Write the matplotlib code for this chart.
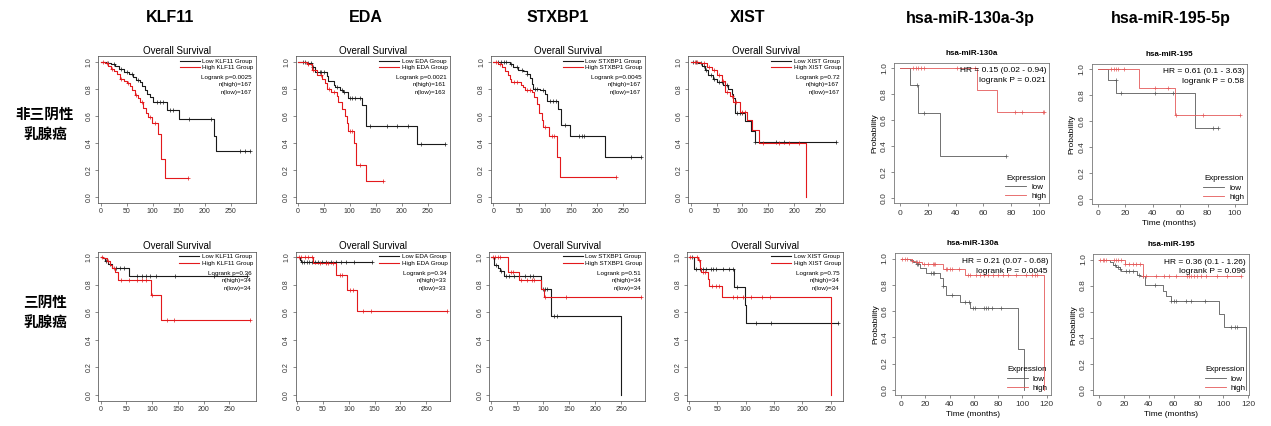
import numpy as np
import matplotlib
matplotlib.use('Agg')
import matplotlib.pyplot as plt
from matplotlib.lines import Line2D

plt.rcParams['font.family'] = ['Liberation Sans', 'Noto Sans CJK SC', 'DejaVu Sans']

W, H = 1271, 426

col_titles = ['KLF11', 'EDA', 'STXBP1', 'XIST', 'hsa-miR-130a-3p', 'hsa-miR-195-5p']
row_titles = ['非三阴性\n乳腺癌', '三阴性\n乳腺癌']

# ---------- GEPIA panels (time in months) ----------
klf11_1_low_t = [0, 10, 20, 28, 35, 45, 55, 62, 68, 75, 80, 85, 90, 95, 101, 127, 150, 218, 222]
klf11_1_low_s = [1.0, 0.99, 0.98, 0.965, 0.945, 0.925, 0.91, 0.89, 0.865, 0.85, 0.82, 0.79, 0.76, 0.74, 0.705, 0.645, 0.575, 0.455, 0.345]
klf11_1_low_c = [15, 25, 40, 50, 60, 72, 108, 114, 120, 133, 140, 169, 212, 268, 278, 287]
klf11_1_high_t = [0, 8, 15, 20, 25, 31, 37, 44, 50, 56, 60, 66, 72, 76, 82, 88, 92, 98, 111, 116, 124]
klf11_1_high_s = [1.0, 0.99, 0.97, 0.95, 0.93, 0.91, 0.87, 0.855, 0.84, 0.82, 0.79, 0.755, 0.73, 0.705, 0.655, 0.62, 0.595, 0.545, 0.47, 0.28, 0.14]
klf11_1_high_c = [5, 12, 22, 40, 52, 68, 80, 95, 104, 167]
klf11_1_stats = ['Logrank p=0.0025', 'n(high)=167', 'n(low)=167']

eda_1_low_t = [0, 17, 27, 33, 56, 59, 69, 72, 81, 88, 97, 124, 131, 230]
eda_1_low_s = [1.0, 0.99, 0.96, 0.925, 0.895, 0.857, 0.83, 0.81, 0.795, 0.775, 0.733, 0.684, 0.523, 0.39]
eda_1_low_c = [10, 15, 20, 25, 30, 38, 42, 45, 50, 75, 85, 90, 100, 105, 110, 120, 140, 172, 192, 212, 237, 283]
eda_1_high_t = [0, 17, 27, 37, 46, 53, 56, 65, 75, 78, 85, 91, 94, 97, 108, 113, 131]
eda_1_high_s = [1.0, 0.98, 0.94, 0.90, 0.87, 0.84, 0.80, 0.78, 0.75, 0.70, 0.65, 0.60, 0.55, 0.49, 0.40, 0.24, 0.12]
eda_1_high_c = [20, 30, 45, 60, 70, 100, 104, 120, 165]
eda_1_stats = ['Logrank p=0.0021', 'n(high)=161', 'n(low)=163']

stxbp1_1_low_t = [0, 32, 38, 48, 58, 64, 70, 74, 77, 90, 99, 103, 125, 131, 147, 215]
stxbp1_1_low_s = [1.0, 0.98, 0.96, 0.94, 0.93, 0.91, 0.88, 0.835, 0.80, 0.79, 0.76, 0.71, 0.65, 0.53, 0.455, 0.30]
stxbp1_1_low_c = [10, 15, 20, 25, 35, 45, 55, 65, 80, 85, 95, 110, 115, 120, 138, 165, 170, 175, 265, 285]
stxbp1_1_high_t = [0, 10, 16, 22, 29, 32, 35, 54, 58, 61, 74, 78, 85, 88, 93, 96, 108, 122, 128]
stxbp1_1_high_s = [1.0, 0.98, 0.96, 0.93, 0.90, 0.87, 0.85, 0.83, 0.81, 0.79, 0.78, 0.74, 0.69, 0.62, 0.57, 0.52, 0.45, 0.295, 0.15]
stxbp1_1_high_c = [5, 12, 40, 45, 65, 70, 100, 113, 117, 237]
stxbp1_1_stats = ['Logrank p=0.0045', 'n(high)=167', 'n(low)=167']

xist_1_low_t = [0, 15, 21, 28, 34, 44, 50, 63, 73, 79, 82, 86, 105, 116, 124]
xist_1_low_s = [1.0, 0.99, 0.97, 0.94, 0.90, 0.87, 0.85, 0.83, 0.80, 0.76, 0.73, 0.62, 0.565, 0.49, 0.41]
xist_1_low_c = [5, 10, 20, 25, 30, 40, 45, 55, 60, 70, 90, 95, 100, 125, 165, 180, 280]
xist_1_high_t = [0, 18, 31, 41, 50, 60, 66, 76, 82, 95, 108, 118, 133, 222]
xist_1_high_s = [1.0, 0.99, 0.96, 0.94, 0.90, 0.86, 0.78, 0.75, 0.70, 0.63, 0.57, 0.50, 0.40, 0.0]
xist_1_high_c = [8, 12, 25, 35, 45, 55, 62, 70, 80, 85, 88, 100, 105, 140, 170, 190, 210]
xist_1_stats = ['Logrank p=0.72', 'n(high)=167', 'n(low)=167']

klf11_2_low_t = [0, 5, 8, 15, 21, 54]
klf11_2_low_s = [1.0, 0.99, 0.97, 0.95, 0.92, 0.86]
klf11_2_low_c = [10, 18, 30, 38, 45, 70, 80, 88, 95, 108, 145, 220, 285]
klf11_2_high_t = [0, 5, 12, 18, 21, 28, 34, 97, 118]
klf11_2_high_s = [1.0, 0.99, 0.97, 0.945, 0.92, 0.89, 0.83, 0.725, 0.545]
klf11_2_high_c = [3, 14, 25, 40, 55, 70, 80, 88, 100, 128, 143, 290]
klf11_2_stats = ['Logrank p=0.36', 'n(high)=34', 'n(low)=34']

eda_2_low_t = [0, 5, 8]
eda_2_low_s = [1.0, 0.98, 0.965]
eda_2_low_c = [10, 14, 18, 22, 28, 35, 40, 48, 55, 65, 75, 85, 95, 110, 144]
eda_2_high_t = [0, 31, 76, 96, 115]
eda_2_high_s = [1.0, 0.955, 0.87, 0.76, 0.61]
eda_2_high_c = [3, 8, 15, 20, 28, 45, 55, 60, 70, 82, 87, 103, 108, 128, 143, 290]
eda_2_stats = ['Logrank p=0.34', 'n(high)=33', 'n(low)=33']

stxbp1_2_low_t = [0, 6, 14, 17, 24, 97, 115, 250]
stxbp1_2_low_s = [1.0, 0.94, 0.92, 0.90, 0.865, 0.77, 0.575, 0.0]
stxbp1_2_low_c = [10, 20, 28, 35, 45, 65, 75, 80, 100, 104, 108, 122, 127]
stxbp1_2_high_t = [0, 33, 53, 97, 101]
stxbp1_2_high_s = [1.0, 0.89, 0.83, 0.77, 0.71]
stxbp1_2_high_c = [3, 8, 13, 18, 38, 43, 58, 70, 78, 83, 103, 145, 288]
stxbp1_2_stats = ['Logrank p=0.51', 'n(high)=34', 'n(low)=34']

xist_2_low_t = [0, 8, 80, 98, 100]
xist_2_low_s = [1.0, 0.91, 0.78, 0.65, 0.52]
xist_2_low_c = [5, 12, 20, 25, 30, 38, 42, 48, 60, 70, 77, 85, 118, 145, 263]
xist_2_high_t = [0, 16, 19, 22, 33, 35, 58, 250]
xist_2_high_s = [1.0, 0.98, 0.92, 0.89, 0.84, 0.79, 0.71, 0.0]
xist_2_high_c = [2, 14, 17, 25, 28, 40, 48, 52, 78, 85, 95, 110, 128, 143]
xist_2_stats = ['Logrank p=0.75', 'n(high)=34', 'n(low)=34']

# ---------- KM plotter panels ----------
mir130_1_low_t = [0, 6.7, 12.5, 28.7]
mir130_1_low_s = [1.0, 0.875, 0.656, 0.328]
mir130_1_low_c = [12, 17, 76]
mir130_1_high_t = [0, 55, 69.6]
mir130_1_high_s = [1.0, 0.833, 0.667]
mir130_1_high_c = [9, 11, 12.5, 15, 17, 41, 54, 83, 88, 103, 104]
mir130_1_stats = ['HR = 0.15 (0.02 - 0.94)', 'logrank P = 0.021']

mir195_1_low_t = [0, 7.8, 13.5, 71]
mir195_1_low_s = [1.0, 0.917, 0.815, 0.543]
mir195_1_low_c = [13, 17, 42, 55, 84, 88]
mir195_1_high_t = [0, 30, 56.3]
mir195_1_high_s = [1.0, 0.857, 0.643]
mir195_1_high_c = [10, 12, 13, 15, 19, 42, 51, 57, 77, 104]
mir195_1_stats = ['HR = 0.61 (0.1 - 3.63)', 'logrank P = 0.58']

mir130_2_low_t = [0, 7.4, 10, 13, 15.7, 21, 32, 35, 37, 48.6, 57, 96.7, 101]
mir130_2_low_s = [1.0, 0.99, 0.975, 0.955, 0.93, 0.89, 0.855, 0.79, 0.72, 0.67, 0.62, 0.31, 0.0]
mir130_2_low_c = [12, 13, 14, 25, 26, 27, 35, 42, 53, 56, 59, 61, 68, 70, 72, 75, 82]
mir130_2_high_t = [0, 9, 11.5, 17, 35, 53, 118]
mir130_2_high_s = [1.0, 0.985, 0.975, 0.96, 0.92, 0.875, 0.0]
mir130_2_high_c = [1, 3, 5, 9, 13, 15, 19, 22, 26, 27, 28, 37, 38, 40, 42, 48, 55, 57, 62, 65, 68,
                   72, 76, 80, 84, 88, 95, 103, 108, 110, 112]
mir130_2_stats = ['HR = 0.21 (0.07 - 0.68)', 'logrank P = 0.0045']

mir195_2_low_t = [0, 9, 11.4, 14, 17, 18, 30.6, 33, 36.7, 51, 54, 58, 96.5, 100.5, 117.8]
mir195_2_low_s = [1.0, 0.98, 0.96, 0.94, 0.93, 0.91, 0.88, 0.87, 0.805, 0.76, 0.72, 0.68, 0.58, 0.485, 0.0]
mir195_2_low_c = [13, 15, 17, 22, 24, 27, 32, 35, 45, 58, 60, 62, 70, 74, 85, 106, 109, 111]
mir195_2_high_t = [0, 20.7, 35]
mir195_2_high_s = [1.0, 0.965, 0.87]
mir195_2_high_c = [1, 3, 4, 6, 12, 14, 15, 18, 21, 24, 27, 30, 33, 35, 38, 46, 52, 56, 62, 71, 72,
                   74, 76, 79, 82, 86, 95, 103, 114]
mir195_2_stats = ['HR = 0.36 (0.1 - 1.26)', 'logrank P = 0.096']


def px_axes(fig, l, r, t, b):
    return fig.add_axes([l / W, 1 - b / H, (r - l) / W, (b - t) / H])


def km(ax, t, s, c, color, lw):
    end = max(t[-1], max(c))
    ax.step(list(t) + [end], list(s) + [s[-1]], where='post', color=color, lw=lw)
    idx = np.searchsorted(t, c, side='right') - 1
    ax.plot(c, np.array(s)[idx], ls='none', marker='+', color=color, ms=3, mew=0.5)


def gepia(ax, gene, lt, ls, lc, ht, hs, hc, stats, xlim):
    km(ax, lt, ls, lc, '#1a1a1a', 0.8)
    km(ax, ht, hs, hc, '#e3191c', 0.8)
    ax.set_xlim(*xlim)
    ax.set_ylim(-0.04, 1.04)
    ax.set_xticks(np.arange(0, 251, 50))
    ax.set_yticks(np.arange(0, 1.01, 0.2))
    ax.set_yticklabels(['%.1f' % v for v in np.arange(0, 1.01, 0.2)], rotation=90, va='center')
    ax.tick_params(labelsize=5, length=2, width=0.4, pad=2, colors='#333333')
    for sp in ax.spines.values():
        sp.set_linewidth(0.5)
        sp.set_color('#444444')
    ax.set_title('Overall Survival', fontsize=7, pad=1.5)
    handles = [Line2D([], [], color='#1a1a1a', lw=0.8), Line2D([], [], color='#e3191c', lw=0.8)]
    ax.legend(handles, ['Low %s Group' % gene, 'High %s Group' % gene], loc='upper right',
              frameon=False, fontsize=4.5, handlelength=3.2, handletextpad=0.4,
              labelspacing=0.15, borderaxespad=0.2, borderpad=0.2)
    for k, txt in enumerate(stats):
        ax.text(0.975, 0.855 - 0.05 * k, txt, transform=ax.transAxes, ha='right', va='center',
                fontsize=4.5)


def kmplot(ax, title, lt, ls, lc, ht, hs, hc, stats, xlim, xmax, xlabel):
    km(ax, lt, ls, lc, '#5a5a5a', 0.6)
    km(ax, ht, hs, hc, '#e45a5a', 0.6)
    ax.set_xlim(*xlim)
    ax.set_ylim(-0.04, 1.04)
    ax.set_xticks(np.arange(0, xmax + 1, 20))
    ax.set_yticks(np.arange(0, 1.01, 0.2))
    ax.set_yticklabels(['%.1f' % v for v in np.arange(0, 1.01, 0.2)], rotation=90, va='center')
    ax.tick_params(labelsize=6, length=2.5, width=0.4, pad=2, colors='#333333')
    for sp in ax.spines.values():
        sp.set_linewidth(0.6)
        sp.set_color('#777777')
    ax.set_title(title, fontsize=5.8, fontweight='bold', pad=6)
    ax.set_ylabel('Probability', fontsize=6, labelpad=2)
    if xlabel:
        ax.set_xlabel('Time (months)', fontsize=6, labelpad=2)
    for k, txt in enumerate(stats):
        ax.text(0.98, 0.945 - 0.07 * k, txt, transform=ax.transAxes, ha='right', va='center',
                fontsize=6)
    handles = [Line2D([], [], color='#5a5a5a', lw=0.6), Line2D([], [], color='#e45a5a', lw=0.6)]
    ax.legend(handles, ['low', 'high'], loc='lower right', frameon=False, fontsize=5.8,
              title='Expression', title_fontsize=5.8, handlelength=2.6, handletextpad=0.6,
              labelspacing=0.2, borderaxespad=0.2, borderpad=0.2)


fig = plt.figure(figsize=(W / 100, H / 100), dpi=100)

# GEPIA row 1
gepia(px_axes(fig, 98, 256, 56.3, 202.7), 'KLF11', klf11_1_low_t, klf11_1_low_s, klf11_1_low_c,
      klf11_1_high_t, klf11_1_high_s, klf11_1_high_c, klf11_1_stats, (-5, 298.5))
gepia(px_axes(fig, 295.7, 450, 56.3, 202.7), 'EDA', eda_1_low_t, eda_1_low_s, eda_1_low_c,
      eda_1_high_t, eda_1_high_s, eda_1_high_c, eda_1_stats, (-3.8, 293))
gepia(px_axes(fig, 490.7, 645, 56.3, 202.7), 'STXBP1', stxbp1_1_low_t, stxbp1_1_low_s, stxbp1_1_low_c,
      stxbp1_1_high_t, stxbp1_1_high_s, stxbp1_1_high_c, stxbp1_1_stats, (-5, 292))
gepia(px_axes(fig, 688.3, 843.3, 56.3, 202.7), 'XIST', xist_1_low_t, xist_1_low_s, xist_1_low_c,
      xist_1_high_t, xist_1_high_s, xist_1_high_c, xist_1_stats, (-4.6, 295))
# GEPIA row 2
gepia(px_axes(fig, 98.3, 255.7, 251.5, 400.5), 'KLF11', klf11_2_low_t, klf11_2_low_s, klf11_2_low_c,
      klf11_2_high_t, klf11_2_high_s, klf11_2_high_c, klf11_2_stats, (-4.7, 301))
gepia(px_axes(fig, 295.7, 450, 251.5, 400.5), 'EDA', eda_2_low_t, eda_2_low_s, eda_2_low_c,
      eda_2_high_t, eda_2_high_s, eda_2_high_c, eda_2_stats, (-3, 296))
gepia(px_axes(fig, 489.3, 645, 251.5, 400.5), 'STXBP1', stxbp1_2_low_t, stxbp1_2_low_s, stxbp1_2_low_c,
      stxbp1_2_high_t, stxbp1_2_high_s, stxbp1_2_high_c, stxbp1_2_stats, (-3.3, 296))
gepia(px_axes(fig, 687.3, 843.3, 251.5, 400.5), 'XIST', xist_2_low_t, xist_2_low_s, xist_2_low_c,
      xist_2_high_t, xist_2_high_s, xist_2_high_c, xist_2_stats, (-3, 272))

# KM plotter
kmplot(px_axes(fig, 894.3, 1049.3, 63.3, 203.3), 'hsa-miR-130a', mir130_1_low_t, mir130_1_low_s,
       mir130_1_low_c, mir130_1_high_t, mir130_1_high_s, mir130_1_high_c, mir130_1_stats,
       (-4.3, 107.5), 100, False)
kmplot(px_axes(fig, 1091.7, 1247.3, 64, 204), 'hsa-miR-195', mir195_1_low_t, mir195_1_low_s,
       mir195_1_low_c, mir195_1_high_t, mir195_1_high_s, mir195_1_high_c, mir195_1_stats,
       (-4.4, 109), 100, True)
kmplot(px_axes(fig, 895, 1051, 253.3, 395), 'hsa-miR-130a', mir130_2_low_t, mir130_2_low_s,
       mir130_2_low_c, mir130_2_high_t, mir130_2_high_s, mir130_2_high_c, mir130_2_stats,
       (-4.9, 123.5), 120, True)
kmplot(px_axes(fig, 1093.3, 1249, 254.3, 395), 'hsa-miR-195', mir195_2_low_t, mir195_2_low_s,
       mir195_2_low_c, mir195_2_high_t, mir195_2_high_s, mir195_2_high_c, mir195_2_stats,
       (-4.6, 120.5), 120, True)

col_x = [170, 366, 558, 748, 970, 1171]
for x, name in zip(col_x, col_titles):
    fig.text(x / W, 1 - 18 / H, name, ha='center', va='center', fontsize=11.5, fontweight='bold')

row_y = [124, 312]
for y, name in zip(row_y, row_titles):
    fig.text(45 / W, 1 - y / H, name, ha='center', va='center', fontsize=10.5, fontweight='bold',
             family=['Noto Sans CJK SC', 'DejaVu Sans'], linespacing=1.3)

fig.savefig('out.png', dpi=100)
